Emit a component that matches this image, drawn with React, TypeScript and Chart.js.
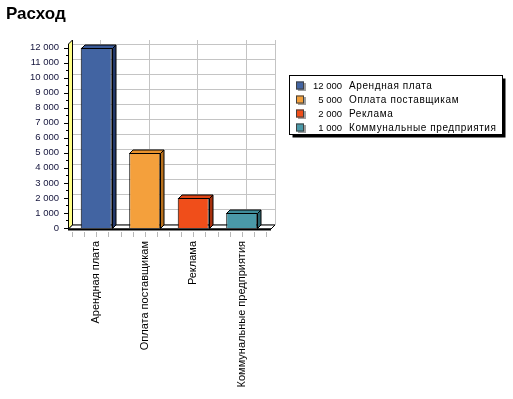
import React, { useEffect, useRef } from "react";
import { Chart, registerables } from "chart.js";

Chart.register(...registerables);

const title = "Расход";
const categories = ["Арендная плата", "Оплата поставщикам", "Реклама", "Коммунальные предприятия"];
const values = [12000, 5000, 2000, 1000];
const frontColors = ["#4264A2", "#F4A03C", "#F04E1A", "#4A99A8"];
const topColors = ["#3A5A98", "#E8922E", "#E04616", "#3F8B99"];
const sideColors = ["#22386A", "#B8701C", "#A8300C", "#2A6470"];
const yMin = 0;
const yMax = 12000;
const yStep = 1000;

const FONT = "'Liberation Sans', Arial, sans-serif";

function fmt(v: number): string {
  return String(v).replace(/\B(?=(\d{3})+(?!\d))/g, " ");
}

const D = 4; // wall depth
const BD = 3.5; // bar depth

const decor = {
  id: "decor3d",
  beforeDraw(chart: any) {
    const ctx = chart.ctx;
    ctx.save();
    ctx.fillStyle = "#ffffff";
    ctx.fillRect(0, 0, chart.width, chart.height);
    ctx.fillStyle = "#000";
    ctx.font = `bold 17px ${FONT}`;
    ctx.textBaseline = "alphabetic";
    ctx.textAlign = "left";
    ctx.fillText(title, 6, 19);
    ctx.restore();
  },
  beforeDatasetsDraw(chart: any) {
    const ctx = chart.ctx;
    const ca = chart.chartArea;
    const ys = chart.scales.y;
    const xs = chart.scales.x;
    const frontLeft = ca.left - D;
    const backLeft = ca.left;
    const backRight = ca.right + 9;
    const frontRight = backRight - D;
    const floorFront = ca.bottom + 1;
    const floorBack = floorFront - D;
    const wallTop = ys.getPixelForValue(yMax) - D - 3.5;
    ctx.save();
    // back wall grid
    ctx.strokeStyle = "#c4c4c4";
    ctx.lineWidth = 1;
    for (let v = yMin; v <= yMax; v += yStep) {
      const y = Math.round(ys.getPixelForValue(v) - D) + 0.5;
      ctx.beginPath();
      ctx.moveTo(backLeft, y);
      ctx.lineTo(backRight + 1, y);
      ctx.stroke();
    }
    for (let i = 0; i < categories.length; i++) {
      const x = Math.round(xs.getPixelForValue(i) + D) + 0.5;
      ctx.beginPath();
      ctx.moveTo(x, wallTop);
      ctx.lineTo(x, floorBack);
      ctx.stroke();
    }
    {
      const x = Math.round(backRight) + 0.5;
      ctx.beginPath();
      ctx.moveTo(x, wallTop);
      ctx.lineTo(x, floorBack);
      ctx.stroke();
    }
    // yellow left wall
    ctx.beginPath();
    ctx.moveTo(frontLeft + 0.5, floorFront);
    ctx.lineTo(frontLeft + 0.5, wallTop + D);
    ctx.lineTo(backLeft + 0.5, wallTop);
    ctx.lineTo(backLeft + 0.5, floorBack);
    ctx.closePath();
    ctx.fillStyle = "#FFFF88";
    ctx.fill();
    ctx.strokeStyle = "#000";
    ctx.stroke();
    // floor
    ctx.beginPath();
    ctx.moveTo(frontLeft + 0.5, floorFront);
    ctx.lineTo(frontRight, floorFront);
    ctx.lineTo(backRight, floorBack);
    ctx.lineTo(backLeft + 0.5, floorBack);
    ctx.closePath();
    ctx.fillStyle = "#ffffff";
    ctx.fill();
    ctx.strokeStyle = "#000";
    ctx.lineWidth = 1;
    ctx.stroke();
    ctx.beginPath();
    ctx.lineWidth = 2;
    ctx.moveTo(frontLeft, floorFront + 0.5);
    ctx.lineTo(frontRight, floorFront + 0.5);
    ctx.stroke();
    // y axis ticks
    ctx.lineWidth = 1;
    ctx.strokeStyle = "#000";
    for (let v = yMin; v <= yMax; v += yStep) {
      const y = Math.round(ys.getPixelForValue(v)) + 0.5;
      ctx.beginPath();
      ctx.moveTo(frontLeft - 4, y);
      ctx.lineTo(frontLeft, y);
      ctx.stroke();
      if (v < yMax) {
        const y2 = Math.round(ys.getPixelForValue(v + yStep / 2)) + 0.5;
        ctx.beginPath();
        ctx.moveTo(frontLeft - 2, y2);
        ctx.lineTo(frontLeft, y2);
        ctx.stroke();
      }
    }
    // x minor ticks
    ctx.strokeStyle = "#b8b8b8";
    const cw = (ca.right - ca.left) / categories.length;
    for (let k = 0; k <= categories.length * 4; k++) {
      const x = Math.round(ca.left + (k * cw) / 4) + 0.5;
      ctx.beginPath();
      ctx.moveTo(x, floorFront + 3);
      ctx.lineTo(x, floorFront + 8);
      ctx.stroke();
    }
    ctx.restore();
  },
  afterDatasetsDraw(chart: any) {
    const ctx = chart.ctx;
    const meta = chart.getDatasetMeta(0);
    ctx.save();
    ctx.strokeStyle = "#000";
    ctx.lineWidth = 1;
    meta.data.forEach((bar: any, i: number) => {
      const p = bar.getProps(["x", "y", "base", "width"], true);
      const x0 = Math.round(p.x - p.width / 2) + 0.5;
      const x1 = Math.round(p.x + p.width / 2) + 0.5;
      const yt = Math.round(p.y) + 0.5;
      const yb = Math.round(p.base) + 0.5;
      // top face
      ctx.beginPath();
      ctx.moveTo(x0, yt);
      ctx.lineTo(x0 + BD, yt - BD);
      ctx.lineTo(x1 + BD, yt - BD);
      ctx.lineTo(x1, yt);
      ctx.closePath();
      ctx.fillStyle = topColors[i];
      ctx.fill();
      ctx.stroke();
      // side face
      ctx.beginPath();
      ctx.moveTo(x1, yt);
      ctx.lineTo(x1 + BD, yt - BD);
      ctx.lineTo(x1 + BD, yb - BD);
      ctx.lineTo(x1, yb);
      ctx.closePath();
      ctx.fillStyle = sideColors[i];
      ctx.fill();
      ctx.stroke();
    });
    ctx.restore();
  },
  afterDraw(chart: any) {
    const ctx = chart.ctx;
    ctx.save();
    const bx = 289.5, by = 75.5, bw = 213, bh = 59;
    ctx.fillStyle = "#000";
    ctx.fillRect(bx + 3, by + 3, bw, bh);
    ctx.fillStyle = "#fff";
    ctx.fillRect(bx, by, bw, bh);
    ctx.strokeStyle = "#000";
    ctx.lineWidth = 1;
    ctx.strokeRect(bx, by, bw, bh);
    ctx.textBaseline = "middle";
    for (let i = 0; i < categories.length; i++) {
      const cy = 85.5 + i * 14;
      ctx.fillStyle = "#a0a0a0";
      ctx.fillRect(298, cy - 2.5, 8, 8);
      ctx.fillStyle = frontColors[i];
      ctx.fillRect(296, cy - 4, 8, 8);
      ctx.strokeStyle = "#404040";
      ctx.strokeRect(296.5, cy - 3.5, 7, 7);
      ctx.fillStyle = "#000";
      ctx.font = `9.5px ${FONT}`;
      ctx.textAlign = "right";
      ctx.fillText(fmt(values[i]), 342, cy + 0.5);
      ctx.textAlign = "left";
      ctx.font = `10px ${FONT}`;
      (ctx as any).letterSpacing = "0.6px";
      ctx.fillText(categories[i], 349, cy + 0.5);
      (ctx as any).letterSpacing = "0px";
    }
    ctx.restore();
  },
};

export default function App() {
  const ref = useRef<HTMLCanvasElement | null>(null);
  useEffect(() => {
    if (!ref.current) return;
    const chart = new Chart(ref.current, {
      type: "bar",
      data: {
        labels: categories,
        datasets: [
          {
            data: values,
            backgroundColor: frontColors,
            borderColor: "#000",
            borderWidth: 1,
            categoryPercentage: 1,
            barPercentage: 0.64,
          },
        ],
      },
      options: {
        responsive: false,
        animation: false,
        devicePixelRatio: 1,
        layout: { padding: { left: 0, top: 47.5, right: 247, bottom: 0 } },
        plugins: { legend: { display: false }, tooltip: { enabled: false }, title: { display: false } },
        scales: {
          x: {
            grid: { display: false, drawTicks: false },
            border: { display: false },
            ticks: {
              maxRotation: 90,
              minRotation: 90,
              autoSkip: false,
              padding: 13,
              color: "#000",
              font: { family: FONT, size: 11 },
            },
            afterFit: (s: any) => {
              s.height = 399 - 228;
            },
          },
          y: {
            min: yMin,
            max: yMax,
            grid: { display: false, drawTicks: false },
            border: { display: false },
            ticks: {
              stepSize: yStep,
              padding: 13,
              color: "#14143c",
              font: { family: FONT, size: 9.5 },
              callback: (v: any) => fmt(Number(v)),
            },
            afterFit: (s: any) => {
              s.width = 72;
            },
          },
        },
      },
      plugins: [decor],
    });
    return () => chart.destroy();
  }, []);
  return (
    <div style={{ position: "absolute", left: 0, top: 0, width: 513, height: 399 }}>
      <canvas ref={ref} width={513} height={399} />
    </div>
  );
}
